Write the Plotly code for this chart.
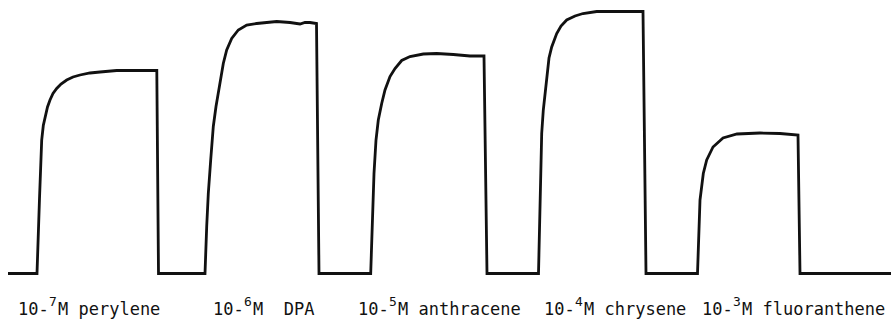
import plotly.graph_objects as go

# Recorder trace: five emission pulses on a common baseline.
# Time in chart-paper units, intensity in relative units (baseline = 0).

t_start, t_end = 8, 891

t_perylene = [37, 39.5, 41.7, 43.3, 45, 47.5, 50, 53, 56.7, 61, 66.7, 73, 80, 90, 100, 116.7, 135, 156.8, 158.5]
i_perylene = [0, 75, 133.5, 148, 157, 166.5, 173.5, 180, 185, 189.5, 193.5, 196.5, 198.5, 200.5, 201.5, 203, 203, 203, 0]

t_dpa = [205, 206.7, 208.3, 210.7, 213.3, 216, 219.3, 223.3, 226.7, 231.7, 238.3, 246.7,
         256.7, 276.7, 290, 300, 305, 310, 316.5, 319]
i_dpa = [0, 47, 80, 113.5, 147, 167, 187, 210, 223.5, 235, 243.5, 248.5,
         250, 252, 251, 249.5, 251, 251, 250, 0]

t_anthracene = [370.7, 372.7, 374, 376, 378.3, 381.7, 385, 390, 395, 401.7, 410, 423.3,
                436.7, 453.3, 470, 484, 487]
i_anthracene = [0, 67, 100, 133.5, 153.5, 170, 183.5, 197, 205, 213, 217, 219.5,
                220, 219, 217.5, 217.5, 0]

t_chrysene = [538.5, 540, 541.7, 543.3, 545, 546.7, 549, 551.7, 556.7, 561, 566.7, 575,
              583, 596.7, 620, 643, 646]
i_chrysene = [0, 73.5, 140, 163.5, 178.5, 198.5, 215.5, 226.5, 240, 247.5, 253.5, 257.5,
              260, 262, 262, 262, 0]

t_fluoranthene = [697.5, 700, 703.3, 706.7, 713, 723, 737, 760, 780, 798, 800]
i_fluoranthene = [0, 73.5, 100, 113.5, 126.5, 135.5, 139.5, 140.5, 140, 138.5, 0]

# Concentration exponents and compound names for the labels
exponents = ["7", "6", "5", "4", "3"]
names = ["M perylene", "M  DPA", "M anthracene", "M chrysene", "M fluoranthene"]

# Left edge of the "M ..." part of each label (time units)
name_x = [57, 252, 397, 583, 741]

pulses_t = [t_perylene, t_dpa, t_anthracene, t_chrysene, t_fluoranthene]
pulses_i = [i_perylene, i_dpa, i_anthracene, i_chrysene, i_fluoranthene]

trace_t = [t_start]
trace_i = [0]
for tt, ii in zip(pulses_t, pulses_i):
    trace_t += tt
    trace_i += ii
trace_t.append(t_end)
trace_i.append(0)

fig = go.Figure()
fig.add_trace(go.Scatter(
    x=trace_t, y=trace_i, mode="lines",
    line=dict(color="#111111", width=2.8),
    hoverinfo="skip", showlegend=False,
))

ink = "#111111"
mono = "DejaVu Sans Mono"
for nx, e, n in zip(name_x, exponents, names):
    # "10-" prefix on the text baseline
    fig.add_annotation(
        x=nx - 40, y=-46.5, xref="x", yref="y", text="10-",
        showarrow=False, xanchor="left", yanchor="bottom", borderpad=0,
        font=dict(family=mono, size=17, color=ink),
    )
    # raised exponent
    fig.add_annotation(
        x=nx - 8.6, y=-36.5, xref="x", yref="y", text=e,
        showarrow=False, xanchor="left", yanchor="bottom", borderpad=0,
        font=dict(family=mono, size=13, color=ink),
    )
    # molar unit and compound name
    fig.add_annotation(
        x=nx, y=-46.5, xref="x", yref="y", text=n,
        showarrow=False, xanchor="left", yanchor="bottom", borderpad=0,
        font=dict(family=mono, size=17, color=ink),
    )

fig.update_layout(
    width=891, height=324,
    margin=dict(l=0, r=0, t=0, b=0),
    paper_bgcolor="white", plot_bgcolor="white",
    xaxis=dict(range=[0, 891], visible=False, fixedrange=True),
    yaxis=dict(range=[-50.5, 273.5], visible=False, fixedrange=True),
)

fig.write_html("out.html", config={"displayModeBar": False})
